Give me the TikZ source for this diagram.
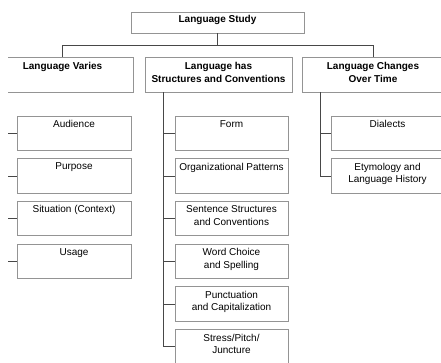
\documentclass[tikz,border=0pt]{standalone}
\usepackage{fontspec}
\setmainfont{Liberation Sans}
\begin{document}
\begin{tikzpicture}[x=1pt,y=-1pt,
 box/.style={draw=black!42, line width=0.9pt, minimum height=34.5pt, inner sep=0pt},
 conn/.style={draw=black!72, line width=0.9pt},
 txt/.style={anchor=north, inner sep=0pt, align=center, font=\fontsize{10}{12.5}\selectfont, text=black},
 ttl/.style={anchor=north, inner sep=0pt, align=center, font=\bfseries\fontsize{10}{13}\selectfont, text=black},
 lbox/.style={box, minimum width=114pt},
 mbox/.style={box, minimum width=113pt},
 rbox/.style={box, minimum width=113pt}]
\useasboundingbox (0,0) rectangle (441,362);
\clip (8,0) rectangle (441,362);
% top
\node[box, minimum width=173pt, minimum height=21pt] (top) at (217.5,22.5) {};
\node[ttl] (topt) at ([yshift=-3.5pt]top.north) {Language Study};
% level 2
\node[box, minimum width=141pt, minimum height=35pt] (l2a) at (62.5,74.5) {};
\node[box, minimum width=147pt, minimum height=35pt] (l2b) at (218.5,74.5) {};
\node[box, minimum width=142pt, minimum height=35pt] (l2c) at (373,74.5) {};
\node[ttl] (l2at) at ([yshift=-5.5pt]l2a.north) {Language Varies};
\node[ttl] (l2bt) at ([yshift=-5.5pt]l2b.north) {Language has\\Structures and Conventions};
\node[ttl] (l2ct) at ([yshift=-5.5pt]l2c.north) {Language Changes\\Over Time};
% left children
\node[lbox] (a1) at (74,133.25) {};
\node[lbox] (a2) at (74,175.95) {};
\node[lbox] (a3) at (74,218.65) {};
\node[lbox] (a4) at (74,261.35) {};
\node[txt] (a1t) at ([yshift=-4.5pt]a1.north) {Audience};
\node[txt] (a2t) at ([yshift=-4.5pt]a2.north) {Purpose};
\node[txt] (a3t) at ([yshift=-4.5pt]a3.north) {Situation (Context)};
\node[txt] (a4t) at ([yshift=-4.5pt]a4.north) {Usage};
% middle children
\node[mbox] (m1) at (231.5,133.25) {};
\node[mbox] (m2) at (231.5,175.95) {};
\node[mbox] (m3) at (231.5,218.65) {};
\node[mbox] (m4) at (231.5,261.35) {};
\node[mbox] (m5) at (231.5,304.05) {};
\node[mbox] (m6) at (231.5,346.75) {};
\node[txt] (m1t) at ([yshift=-4.5pt]m1.north) {Form};
\node[txt] (m2t) at ([yshift=-4.5pt]m2.north) {Organizational Patterns};
\node[txt] (m3t) at ([yshift=-4.5pt]m3.north) {Sentence Structures\\and Conventions};
\node[txt] (m4t) at ([yshift=-4.5pt]m4.north) {Word Choice\\and Spelling};
\node[txt] (m5t) at ([yshift=-4.5pt]m5.north) {Punctuation\\and Capitalization};
\node[txt] (m6t) at ([yshift=-4.5pt]m6.north) {Stress/Pitch/\\Juncture};
% right children
\node[rbox] (r1) at (387.5,133.25) {};
\node[rbox] (r2) at (387.5,175.95) {};
\node[txt] (r1t) at ([yshift=-4.5pt]r1.north) {Dialects};
\node[txt] (r2t) at ([yshift=-4.5pt]r2.north) {Etymology and\\Language History};
% connectors
\coordinate (hy) at (0,45);
\draw[conn] (top.south) -- (top.south |- hy);
\draw[conn] (l2a.north) -- (l2a.north |- hy) -- (l2c.north |- hy) -- (l2c.north);
\coordinate (lv) at (2,92);
\draw[conn] (lv) -- (lv |- a4.west);
\foreach \k in {a1,a2,a3,a4} {\draw[conn] (lv |- \k.west) -- (\k.west);}
\coordinate (mv) at (163,92);
\draw[conn] (mv) -- (mv |- m6.west) -- (m6.west);
\foreach \k in {m1,m2,m3,m4,m5} {\draw[conn] (mv |- \k.west) -- (\k.west);}
\coordinate (rv) at (320,92);
\draw[conn] (rv) -- (rv |- r2.west) -- (r2.west);
\draw[conn] (rv |- r1.west) -- (r1.west);
\end{tikzpicture}
\end{document}
